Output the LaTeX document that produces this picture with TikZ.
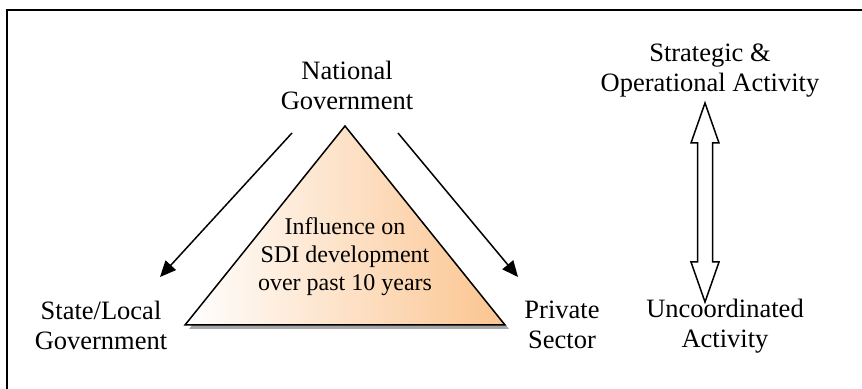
\documentclass[tikz,border=0pt]{standalone}
\usepackage{fontspec}
\setmainfont{Liberation Serif}
\usetikzlibrary{arrows.meta}
\definecolor{triorange}{RGB}{251,196,143}
\begin{document}
\begin{tikzpicture}[x=0.5pt,y=-0.5pt,
    lbl/.style={align=center,inner sep=0pt,font=\fontsize{13.25}{15}\selectfont},
    flow/.style={-{Triangle[length=8pt,width=7pt]},line width=0.75pt}]
      \useasboundingbox (0,0) rectangle (862,389);
      \clip (0,0) rectangle (862,389);
      % frame
      \draw [line width=1pt] (7,420) |- (900,10);
      % triangle with shadow
      \fill [gray!70] (189,329) -- (349,130) -- (509,329) -- cycle;
      \draw [left color=white, right color=triorange, line width=0.75pt]
            (185,325) -- (345,126) -- (505,325) -- cycle;
      \node [lbl,font=\fontsize{12}{14}\selectfont] (infl) at (345,257)
            {Influence on\\SDI development\\over past 10 years};
      % labels
      \node [lbl] (natl) at (347,85) {National\\Government};
      \node [lbl] (state) at (101,325) {State/Local\\Government};
      \node [lbl] (priv) at (562,325) {Private\\Sector};
      \node [lbl] (strat) at (710,71) {Strategic \&\\Operational Activity};
      \node [lbl] (uncoord) at (725,326) {Uncoordinated\\Activity};
      % arrows
      \coordinate (nl) at (292,133); \coordinate (sl) at (160,277);
      \coordinate (nr) at (398,133); \coordinate (pr) at (518,277);
      \draw [flow] (nl) -- (sl);
      \draw [flow] (nr) -- (pr);
      \coordinate (up) at (705,103); \coordinate (dn) at (705,302);
      \draw [line width=0.75pt,fill=white]
            (up) -- ++(14,40) -- ++(-6.5,0) -- ++(0,119) -- ++(6.5,0)
            -- (dn) -- ++(-14,-40) -- ++(6.5,0) -- ++(0,-119) -- ++(-6.5,0) -- cycle;
     \end{tikzpicture}
\end{document}
